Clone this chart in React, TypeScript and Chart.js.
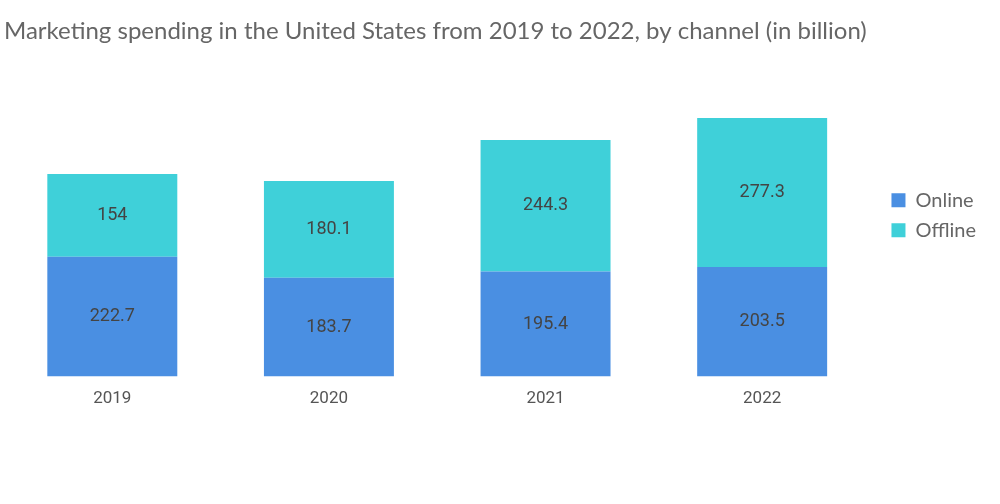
import React, { useEffect, useRef } from "react";
import { Chart, registerables } from "chart.js";

Chart.register(...registerables);

const titleText = "Marketing spending in the United States from 2019 to 2022, by channel (in billion)";
const years = ["2019", "2020", "2021", "2022"];
const online = [222.7, 183.7, 195.4, 203.5];
const offline = [154, 180.1, 244.3, 277.3];
const seriesNames = ["Online", "Offline"];
const seriesColors = ["#4a8fe2", "#3fd0d9"];

const barLabels = {
  id: "barLabels",
  afterDatasetsDraw(chart: any) {
    const ctx = chart.ctx;
    ctx.save();
    ctx.font = "18px Roboto";
    ctx.fillStyle = "#444";
    ctx.textAlign = "center";
    ctx.textBaseline = "middle";
    chart.data.datasets.forEach((ds: any, i: number) => {
      const meta = chart.getDatasetMeta(i);
      meta.data.forEach((bar: any, j: number) => {
        const v = ds.data[j];
        const y = (bar.y + bar.base) / 2;
        ctx.fillText(String(v), bar.x, y);
      });
    });
    ctx.restore();
  },
};

export default function App() {
  const ref = useRef<HTMLCanvasElement>(null);
  useEffect(() => {
    document.body.style.margin = "0";
    const chart = new Chart(ref.current!, {
      type: "bar",
      data: {
        labels: years,
        datasets: [
          { label: seriesNames[0], data: online, backgroundColor: seriesColors[0] },
          { label: seriesNames[1], data: offline, backgroundColor: seriesColors[1] },
        ],
      },
      options: {
        animation: false,
        responsive: false,
        layout: { padding: { left: 4, right: 14, top: 0, bottom: 91 } },
        datasets: { bar: { categoryPercentage: 0.6, barPercentage: 1 } },
        scales: {
          x: {
            stacked: true,
            grid: { display: false },
            border: { display: false },
            ticks: { color: "#555", font: { family: "Roboto", size: 17 }, padding: 4 },
          },
          y: {
            stacked: true,
            position: "right",
            min: 0,
            max: 600,
            grid: { display: false },
            border: { display: false },
            ticks: { display: false },
            afterFit: (scale: any) => {
              scale.width = 11;
            },
          },
        },
        plugins: {
          title: {
            display: true,
            text: titleText,
            align: "start",
            color: "#666",
            font: { family: "Lato", size: 24, weight: "normal" },
            padding: { top: 17, bottom: 8 },
          },
          legend: {
            position: "right",
            fullSize: false,
            labels: {
              boxWidth: 14,
              boxHeight: 14,
              padding: 10,
              color: "#666",
              font: { family: "Lato", size: 20 },
            },
          },
          tooltip: { enabled: false },
        },
      },
      plugins: [barLabels],
    });
    return () => chart.destroy();
  }, []);
  return <canvas ref={ref} width={1000} height={504} style={{ display: "block" }} />;
}
